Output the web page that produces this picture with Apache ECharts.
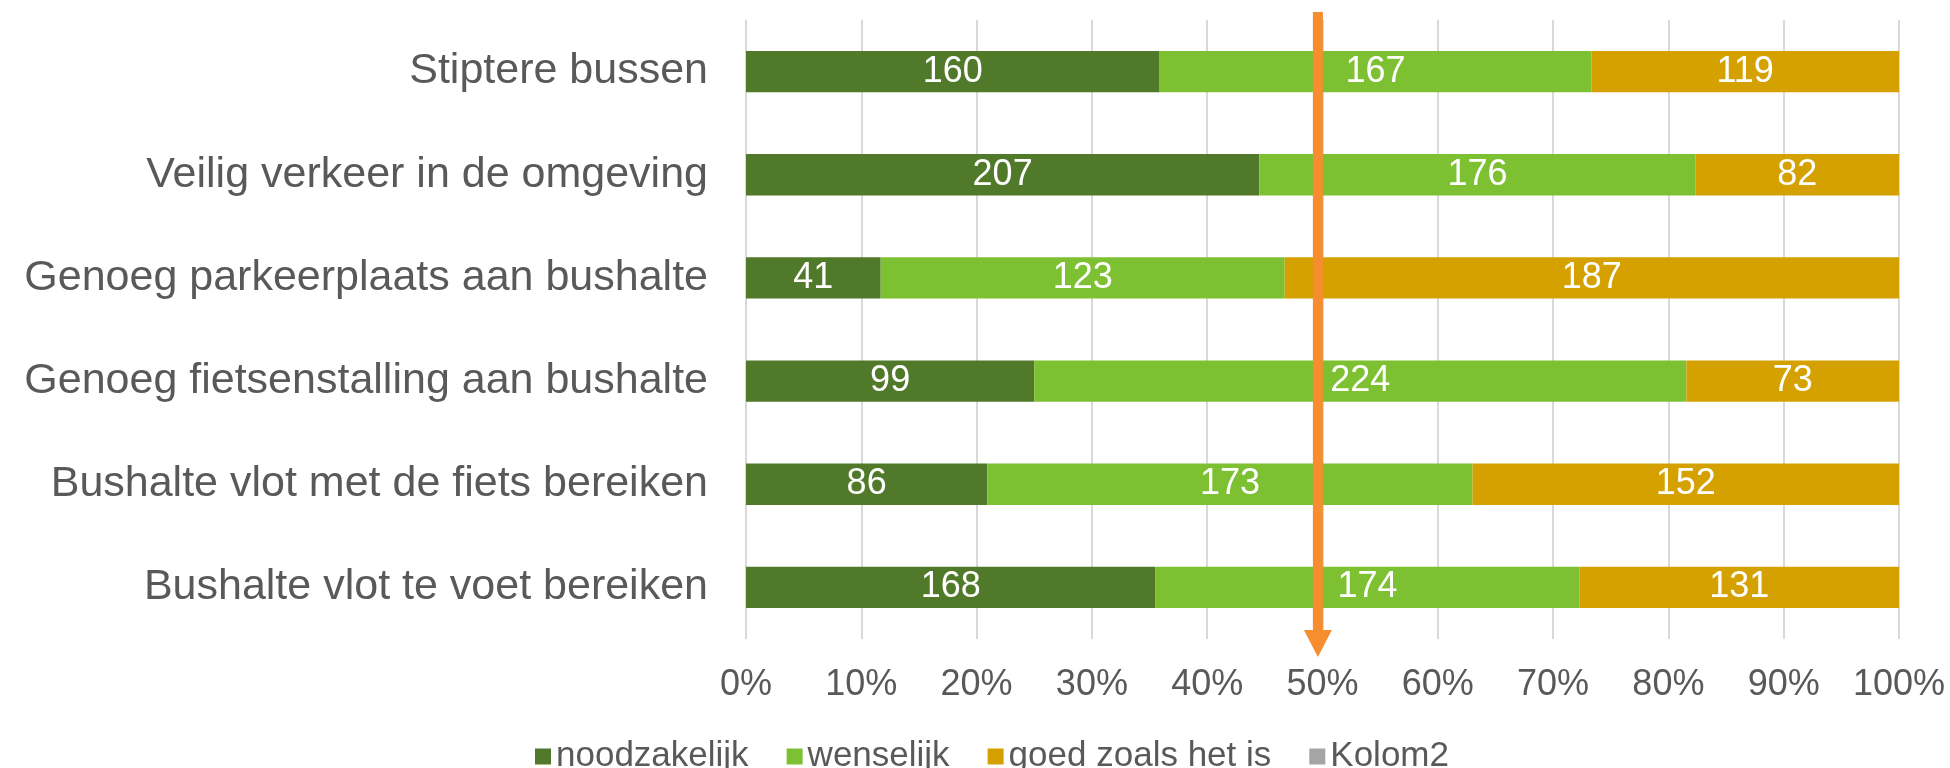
<!DOCTYPE html>
<html>
<head>
<meta charset="utf-8">
<script src="https://cdn.jsdelivr.net/npm/echarts@6/dist/echarts.min.js"></script>
<style>
  html, body { margin: 0; padding: 0; background: #fff; }
  #chart { width: 1950px; height: 768px; }
</style>
</head>
<body>
<div id="chart"></div>
<script>
const categories = [
  'Stiptere bussen',
  'Veilig verkeer in de omgeving',
  'Genoeg parkeerplaats aan bushalte',
  'Genoeg fietsenstalling aan bushalte',
  'Bushalte vlot met de fiets bereiken',
  'Bushalte vlot te voet bereiken'
]
const noodzakelijk = [160, 207, 41, 99, 86, 168]
const wenselijk = [167, 176, 123, 224, 173, 174]
const goedZoals = [119, 82, 187, 73, 152, 131]
const kolom2 = [0, 0, 0, 0, 0, 0]
const xTicks = [0, 10, 20, 30, 40, 50, 60, 70, 80, 90, 100]
const arrowAt = 49.6

const font = 'Liberation Sans, Arial, sans-serif'
const totals = categories.map((c, i) => noodzakelijk[i] + wenselijk[i] + goedZoals[i] + kolom2[i])
const pct = (arr) => arr.map((v, i) => v / totals[i] * 100)

function makeSeries (name, raw, color) {
  return {
    name: name,
    type: 'bar',
    stack: 'total',
    barWidth: '40%',
    itemStyle: { color: color },
    label: {
      show: true,
      position: 'inside',
      color: '#fff',
      fontFamily: font,
      fontSize: 36,
      formatter: (p) => raw[p.dataIndex] > 0 ? raw[p.dataIndex] : ''
    },
    data: pct(raw)
  }
}

const myChart = echarts.init(document.getElementById('chart'))
myChart.setOption({
  animation: false,
  textStyle: { fontFamily: font },
  color: ['#50792A', '#7DC133', '#D4A100', '#A5A5A5'],
  grid: {
    left: 746,
    right: 51,
    top: 20,
    bottom: 129
  },
  legend: {
    bottom: -11,
    left: 530,
    icon: 'rect',
    itemWidth: 16,
    itemHeight: 16,
    itemGap: 38,
    textStyle: { color: '#595959', fontSize: 35, fontFamily: font },
    data: ['noodzakelijk', 'wenselijk', 'goed zoals het is', 'Kolom2']
  },
  xAxis: {
    type: 'value',
    min: xTicks[0],
    max: xTicks[xTicks.length - 1],
    interval: 10,
    axisLine: { show: false },
    axisTick: { show: false },
    axisLabel: {
      color: '#595959',
      fontSize: 36,
      fontFamily: font,
      margin: 28,
      formatter: '{value}%'
    },
    splitLine: { lineStyle: { color: '#D9D9D9', width: 2 } }
  },
  yAxis: {
    type: 'category',
    inverse: true,
    data: categories,
    axisLine: { show: false },
    axisTick: { show: false },
    axisLabel: {
      color: '#595959',
      fontSize: 43,
      fontFamily: font,
      margin: 38
    }
  },
  series: [
    makeSeries('noodzakelijk', noodzakelijk, '#50792A'),
    makeSeries('wenselijk', wenselijk, '#7DC133'),
    makeSeries('goed zoals het is', goedZoals, '#D4A100'),
    makeSeries('Kolom2', kolom2, '#A5A5A5')
  ]
})

// orange arrow pointing down at roughly the 50% mark
const ax = myChart.convertToPixel({ xAxisIndex: 0 }, arrowAt)
myChart.setOption({
  graphic: [
    {
      type: 'rect',
      shape: { x: ax - 5, y: 12, width: 10, height: 620 },
      style: { fill: '#F68D2E' },
      z: 100
    },
    {
      type: 'polygon',
      shape: { points: [[ax - 14, 630], [ax + 14, 630], [ax, 657]] },
      style: { fill: '#F68D2E' },
      z: 100
    }
  ]
})

window.addEventListener('resize', function () {
  myChart.resize()
})
</script>
</body>
</html>
